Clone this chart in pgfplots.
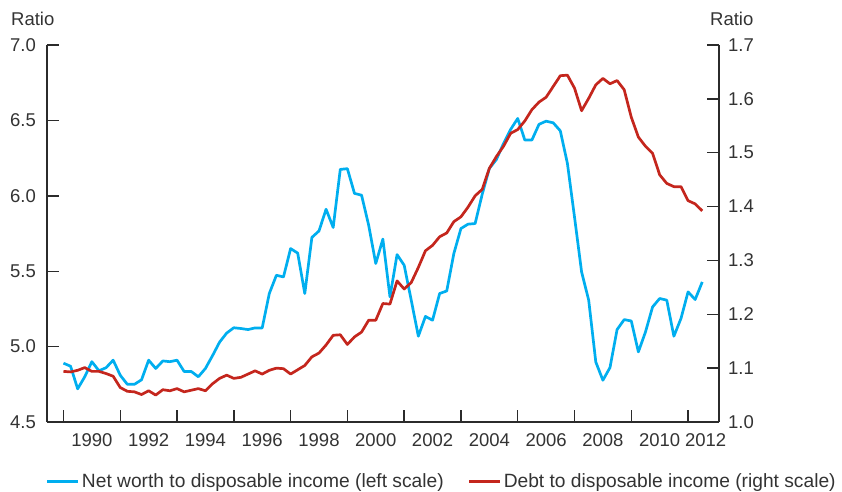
\documentclass[border=0pt]{standalone}
\usepackage{fontspec}
\setmainfont{Liberation Sans}
\usepackage{pgfplots}
\pgfplotsset{compat=1.18}
\definecolor{netblue}{HTML}{00AEEF}
\definecolor{debtred}{HTML}{C4261D}
\definecolor{axgray}{HTML}{2B2B2B}
\definecolor{txtgray}{HTML}{333333}
\begin{document}
\begin{tikzpicture}[font=\fontsize{18.5}{20}\selectfont]
\path[use as bounding box] (-47pt,-69pt) rectangle (795pt,422pt);
\pgfplotsset{
  base/.style={
    scale only axis, width=672pt, height=377pt,
    xmin=1988.42, xmax=2012.09,
    axis line style={axgray, line width=1.4pt},
    tick style={axgray, line width=1.4pt},
    major tick length=12pt,
    tick align=inside,
    /pgf/number format/assume math mode=true,
    ticklabel style={text=txtgray},
  }
}
\begin{axis}[base,
  axis x line*=bottom, axis y line*=left,
  ymin=4.5, ymax=7.0,
  ytick={4.5,5.0,...,7.0},
  yticklabel style={/pgf/number format/.cd, fixed, fixed zerofill, precision=1, /tikz/.cd, inner sep=0pt, xshift=-11pt},
  xtick={1989,1991,...,2011},
  xticklabels={},
  extra x ticks={1990,1992,...,2010,2011.62},
  extra x tick labels={1990,1992,1994,1996,1998,2000,2002,2004,2006,2008,2010,2012},
  extra x tick style={major tick length=0pt, xticklabel style={inner sep=0pt, yshift=-11pt, anchor=north}},
  legend style={draw=none, fill=none, at={(axis description cs:0,-0.1565)}, anchor=west,
    legend columns=2, inner sep=0pt, outer sep=0pt, text=txtgray,
    font=\fontsize{19.2}{21}\selectfont,
    /tikz/every even column/.append style={column sep=25pt},
    nodes={inner sep=0pt, text=txtgray}},
  legend image code/.code={\fill[#1, draw=none] (0pt,-1.5pt) rectangle (31pt,1.5pt); \fill[draw=none, fill=none, opacity=0] (31pt,-1pt) rectangle (35pt,1pt);},
  clip=false,
]
\node[anchor=west, inner sep=0pt, text=txtgray] at ([xshift=-36pt,yshift=26pt]rel axis cs:0,1) {Ratio};
\addplot[netblue, line width=2.7pt, line join=round] coordinates {
(1989.00,4.89) (1989.25,4.87) (1989.50,4.72) (1989.75,4.80)
(1990.00,4.90) (1990.25,4.84) (1990.50,4.86) (1990.75,4.91)
(1991.00,4.81) (1991.25,4.75) (1991.50,4.75) (1991.75,4.78)
(1992.00,4.91) (1992.25,4.855) (1992.50,4.905) (1992.75,4.90)
(1993.00,4.91) (1993.25,4.835) (1993.50,4.835) (1993.75,4.80)
(1994.00,4.855) (1994.25,4.94) (1994.50,5.03) (1994.75,5.09)
(1995.00,5.125) (1995.25,5.12) (1995.50,5.113) (1995.75,5.124)
(1996.00,5.124) (1996.25,5.352) (1996.50,5.473) (1996.75,5.462)
(1997.00,5.65) (1997.25,5.62) (1997.50,5.352) (1997.75,5.724)
(1998.00,5.767) (1998.25,5.911) (1998.50,5.79) (1998.75,6.175)
(1999.00,6.18) (1999.25,6.016) (1999.50,6.004) (1999.75,5.805)
(2000.00,5.551) (2000.25,5.713) (2000.50,5.33) (2000.75,5.61)
(2001.00,5.54) (2001.25,5.307) (2001.50,5.069) (2001.75,5.20)
(2002.00,5.175) (2002.25,5.352) (2002.50,5.369) (2002.75,5.617)
(2003.00,5.783) (2003.25,5.812) (2003.50,5.816) (2003.75,6.011)
(2004.00,6.181) (2004.25,6.241) (2004.50,6.347) (2004.75,6.44)
(2005.00,6.513) (2005.25,6.37) (2005.50,6.37) (2005.75,6.474)
(2006.00,6.495) (2006.25,6.484) (2006.50,6.431) (2006.75,6.215)
(2007.00,5.86) (2007.25,5.495) (2007.50,5.308) (2007.75,4.898)
(2008.00,4.777) (2008.25,4.861) (2008.50,5.113) (2008.75,5.179)
(2009.00,5.17) (2009.25,4.965) (2009.50,5.097) (2009.75,5.263)
(2010.00,5.319) (2010.25,5.308) (2010.50,5.069) (2010.75,5.186)
(2011.00,5.363) (2011.25,5.312) (2011.50,5.429)
};
\addlegendentry{Net worth to disposable income (left scale)}
\addlegendimage{debtred}
\addlegendentry{Debt to disposable income (right scale)}
\end{axis}
\begin{axis}[base,
  axis x line=none, axis y line*=right,
  ymin=1.0, ymax=1.7,
  ytick={1.0,1.1,...,1.7},
  yticklabel style={/pgf/number format/.cd, fixed, fixed zerofill, precision=1, /tikz/.cd, inner sep=0pt, xshift=9pt},
  clip=false,
]
\node[anchor=west, inner sep=0pt, text=txtgray] at ([xshift=-9pt,yshift=26pt]rel axis cs:1,1) {Ratio};
\addplot[debtred, line width=2.7pt, line join=round] coordinates {
(1989.00,1.094) (1989.25,1.093) (1989.50,1.096) (1989.75,1.101)
(1990.00,1.094) (1990.25,1.094) (1990.50,1.090) (1990.75,1.085)
(1991.00,1.064) (1991.25,1.057) (1991.50,1.056) (1991.75,1.051)
(1992.00,1.058) (1992.25,1.050) (1992.50,1.060) (1992.75,1.058)
(1993.00,1.062) (1993.25,1.056) (1993.50,1.059) (1993.75,1.062)
(1994.00,1.058) (1994.25,1.071) (1994.50,1.081) (1994.75,1.087)
(1995.00,1.081) (1995.25,1.083) (1995.50,1.089) (1995.75,1.095)
(1996.00,1.089) (1996.25,1.096) (1996.50,1.100) (1996.75,1.099)
(1997.00,1.089) (1997.25,1.097) (1997.50,1.105) (1997.75,1.121)
(1998.00,1.128) (1998.25,1.143) (1998.50,1.161) (1998.75,1.162)
(1999.00,1.144) (1999.25,1.158) (1999.50,1.167) (1999.75,1.189)
(2000.00,1.189) (2000.25,1.220) (2000.50,1.219) (2000.75,1.262)
(2001.00,1.247) (2001.25,1.259) (2001.50,1.287) (2001.75,1.318)
(2002.00,1.328) (2002.25,1.344) (2002.50,1.351) (2002.75,1.372)
(2003.00,1.381) (2003.25,1.399) (2003.50,1.420) (2003.75,1.432)
(2004.00,1.471) (2004.25,1.493) (2004.50,1.512) (2004.75,1.536)
(2005.00,1.543) (2005.25,1.559) (2005.50,1.580) (2005.75,1.594)
(2006.00,1.603) (2006.25,1.623) (2006.50,1.643) (2006.75,1.644)
(2007.00,1.620) (2007.25,1.578) (2007.50,1.601) (2007.75,1.626)
(2008.00,1.638) (2008.25,1.628) (2008.50,1.634) (2008.75,1.617)
(2009.00,1.566) (2009.25,1.529) (2009.50,1.512) (2009.75,1.499)
(2010.00,1.459) (2010.25,1.443) (2010.50,1.437) (2010.75,1.437)
(2011.00,1.411) (2011.25,1.405) (2011.50,1.392)
};
\end{axis}
\end{tikzpicture}
\end{document}
